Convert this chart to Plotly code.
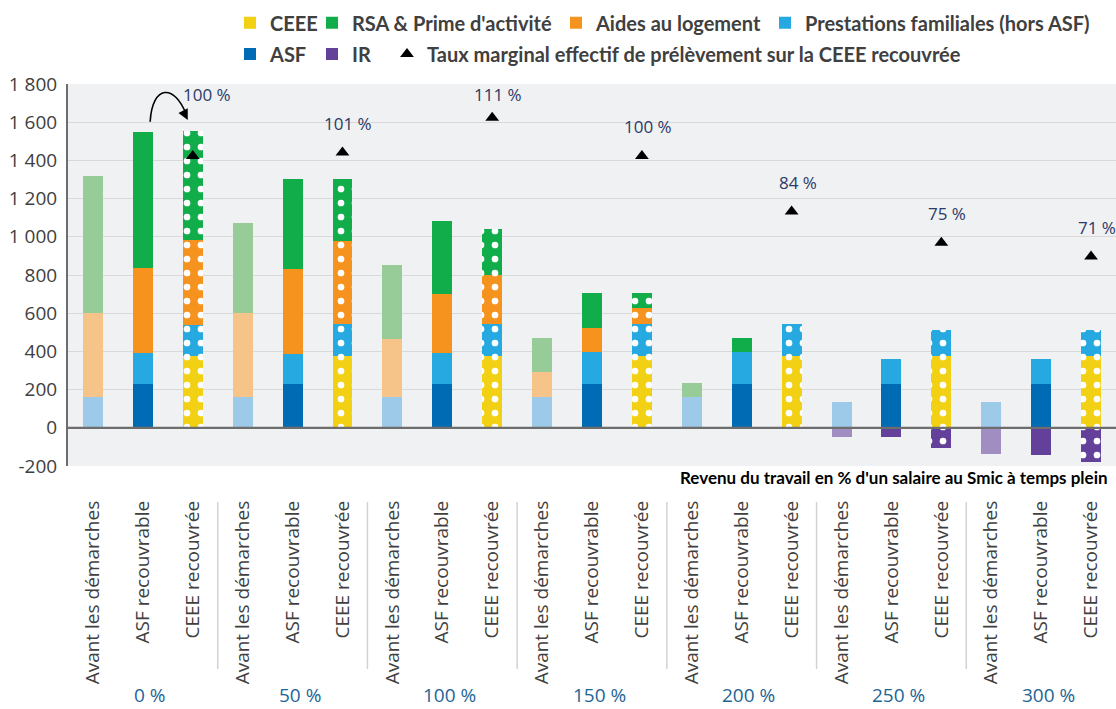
import plotly.graph_objects as go

# ---------------- data ----------------
groups = ["0 %", "50 %", "100 %", "150 %", "200 %", "250 %", "300 %"]
situations = ["Avant les démarches", "ASF recouvrable", "CEEE recouvrée"]

# one value per bar (groups x situations, in order)
ceee = [None, None, 374, None, None, 374, None, None, 374, None, None, 374,
        None, None, 374, None, None, 374, None, None, 374]
asf = [None, 229, None, None, 229, None, None, 229, None, None, 229, None,
       None, 229, None, None, 229, None, None, 229, None]
prest_fam = [161, 163, 163, 161, 159, 168, 161, 163, 168, 161, 166, 168,
             161, 166, 168, 133, 133, 137, 133, 133, 137]
aides_log = [442, 444, 446, 442, 443, 436, 306, 308, 257, 129, 130, 86,
             None, None, None, None, None, None, None, None, None]
rsa_pa = [716, 715, 570, 469, 472, 325, 385, 383, 242, 182, 180, 77,
          75, 74, None, None, None, None, None, None, None]
ir = [None, None, None, None, None, None, None, None, None, None, None, None,
      None, None, None, -49, -49, -107, -138, -142, -180]
tmep = [100, 101, 111, 100, 84, 75, 71]

y_ticks = [-200, 0, 200, 400, 600, 800, 1000, 1200, 1400, 1600, 1800]
y_tick_labels = ["-200", "0", "200", "400", "600", "800", "1 000", "1 200",
                 "1 400", "1 600", "1 800"]

# ---------------- styling ----------------
n_sit = len(situations)
n_bars = len(groups) * n_sit
x_pos = list(range(n_bars))
sit_of_bar = [i % n_sit for i in x_pos]
tick_text = [situations[s] for s in sit_of_bar]
ceee_bars = [g * n_sit + 2 for g in range(len(groups))]
group_centers = [g * n_sit + 1 for g in range(len(groups))]

BG = "#f0f1f3"
TXT = "#404040"

series = [
    ("CEEE", ceee, "#f2d013", "#f7e37a"),
    ("ASF", asf, "#006bb5", "#7fb0dc"),
    ("Prestations familiales (hors ASF)", prest_fam, "#25a9e0", "#9ecae9"),
    ("Aides au logement", aides_log, "#f6921e", "#f6c489"),
    ("RSA & Prime d'activité", rsa_pa, "#12ad4b", "#97cb97"),
    ("IR", ir, "#634099", "#a08ec2"),
]

DOTS = "M1.5,1.5h4v4h-4zM8.5,8.5h4v4h-4z"

fig = go.Figure()

# one trace per series and situation (faded / solid / dotted)
for name, vals, col, faded in series:
    for s in range(n_sit):
        xs = [i for i in x_pos if sit_of_bar[i] == s]
        ys = [vals[i] for i in xs]
        if all(v is None for v in ys):
            continue
        marker = dict(color=faded if s == 0 else col, line=dict(width=0))
        if s == 2:
            marker["pattern"] = dict(shape=".", path=DOTS, fgcolor="white",
                                     fgopacity=1, size=14, solidity=0.18,
                                     fillmode="overlay")
        fig.add_trace(go.Bar(x=xs, y=ys, name=name, showlegend=False,
                             width=0.4, marker=marker, hoverinfo="skip"))

# legend entries (solid swatches), one legend per entry to match layout
legend_entries = [
    ("CEEE", "#f2d013", "legend", 270, 22.7),
    ("RSA & Prime d'activité", "#12ad4b", "legend2", 352, 22.7),
    ("Aides au logement", "#f6921e", "legend3", 596, 22.7),
    ("Prestations familiales (hors ASF)", "#25a9e0", "legend4", 805, 22.7),
    ("ASF", "#006bb5", "legend5", 270, 54),
    ("IR", "#634099", "legend6", 352, 54),
]
for name, col, lg, _, _ in legend_entries:
    fig.add_trace(go.Bar(x=[None], y=[None], name=name, legend=lg,
                         marker=dict(color=col, line=dict(width=0)),
                         showlegend=True))

# TMEP triangles on secondary axis
fig.add_trace(go.Scatter(
    x=ceee_bars, y=tmep, yaxis="y2", mode="markers",
    name="Taux marginal effectif de prélèvement sur la CEEE recouvrée",
    marker=dict(symbol="triangle-up", size=12, color="black"),
    legend="legend7", hoverinfo="skip",
))

# ---------------- layout ----------------
L, R, T, B = 68, 0, 84, 243
W, H = 1116, 709
plot_w = W - L - R
plot_h = H - T - B


def px_to_paper_x(px):
    return (px - L) / plot_w


def px_to_paper_y(py):
    return (H - B - py) / plot_h


legend_font = dict(family="Lato", size=20, color=TXT, weight="bold")
legends = {}
all_legends = legend_entries + [("", "", "legend7", 427, 54)]
for name, col, lg, tx, ty in all_legends:
    legends[lg] = dict(
        x=px_to_paper_x(tx - 40), y=px_to_paper_y(ty), xref="paper", yref="paper",
        xanchor="left", yanchor="middle", orientation="h",
        bgcolor="rgba(0,0,0,0)", borderwidth=0, font=legend_font,
        itemclick=False, itemdoubleclick=False,
    )

annotations = []
# TMEP labels
label_shift = [(14, 61), (6, 29), (6, 23), (6, 29), (6, 29), (6, 29), (6, 29)]
for xb, v, (dx, dy) in zip(ceee_bars, tmep, label_shift):
    annotations.append(dict(
        x=xb, y=v, xref="x", yref="y2", text=f"{v} %", showarrow=False,
        xshift=dx, yshift=dy, xanchor="center", yanchor="middle",
        font=dict(family="Open Sans", size=17, color="#2b3a67"),
    ))
# group labels
for xc, g in zip(group_centers, groups):
    annotations.append(dict(
        x=xc, y=px_to_paper_y(695), xref="x", yref="paper", text=g,
        showarrow=False, xshift=7, xanchor="center", yanchor="middle",
        font=dict(family="Open Sans", size=19, color="#1d6594"),
    ))
# x axis title
annotations.append(dict(
    x=px_to_paper_x(1110), y=px_to_paper_y(477), xref="paper", yref="paper",
    text="Revenu du travail en % d'un salaire au Smic à temps plein",
    showarrow=False, xanchor="right", yanchor="middle",
    font=dict(family="Lato", size=17, color="black", weight="bold"),
))
# arrowhead of the curved arrow
annotations.append(dict(
    x=1.9, y=1612, xref="x", yref="y", ax=-5, ay=-10, text="",
    showarrow=True, arrowhead=2, arrowsize=1.3, arrowwidth=1.6,
    arrowcolor="black", standoff=0,
))

shapes = []
# group separators
for g in range(1, len(groups)):
    xs = g * n_sit - 0.5
    shapes.append(dict(type="line", xref="x", yref="paper", x0=xs, x1=xs,
                       y0=px_to_paper_y(502), y1=px_to_paper_y(669),
                       line=dict(color="#d3d3d3", width=1.5)))
# zero line above bars
shapes.append(dict(type="line", xref="paper", yref="y", x0=0, x1=1, y0=0, y1=0,
                   line=dict(color="#6d6d6d", width=2.2), layer="above"))
# curved arrow
shapes.append(dict(type="path", xref="x", yref="y",
                   path="M 1.146,1602 C 1.19,1800 1.64,1800 1.87,1640",
                   line=dict(color="black", width=1.6), layer="above"))

fig.update_layout(
    width=W, height=H,
    margin=dict(l=L, r=R, t=T, b=B, autoexpand=False),
    paper_bgcolor="white", plot_bgcolor=BG,
    barmode="relative", bargap=0,
    font=dict(family="Open Sans", color=TXT),
    xaxis=dict(range=[-0.5, n_bars - 0.5], tickmode="array", tickvals=x_pos,
               ticktext=tick_text, tickangle=-90, showgrid=False,
               zeroline=False, showline=False, ticks="",
               ticklabelstandoff=30,
               tickfont=dict(family="Open Sans", size=19, color=TXT)),
    yaxis=dict(range=[-200, 1800], tickmode="array", tickvals=y_ticks,
               ticktext=y_tick_labels, showgrid=True, gridcolor="#d9d9d9",
               gridwidth=1, zeroline=False, showline=True,
               linecolor="#6d6d6d", linewidth=2, ticks="",
               ticklabelstandoff=5,
               tickfont=dict(family="Open Sans", size=19, color=TXT)),
    yaxis2=dict(range=[10.7, 120.7], overlaying="y", visible=False),
    annotations=annotations,
    shapes=shapes,
    **legends,
)

fig.write_html("out.html", config={"displayModeBar": False},
               post_script="document.body.style.margin='0';")
